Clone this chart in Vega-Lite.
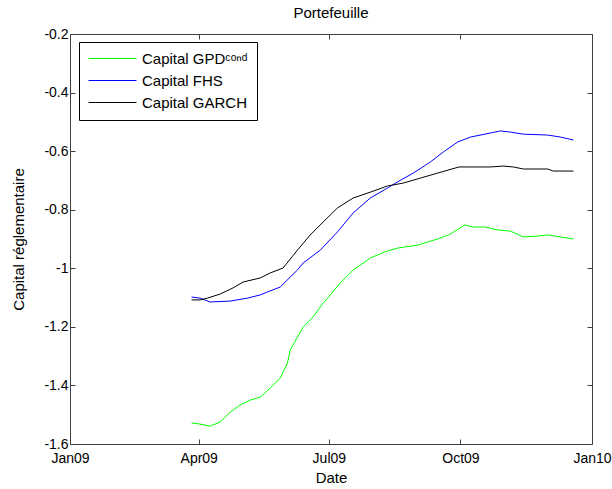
{
  "$schema": "https://vega.github.io/schema/vega-lite/v6.json",
  "width": 522,
  "height": 410,
  "autosize": {"type": "none"},
  "padding": {"left": 70, "top": 34, "right": 20, "bottom": 45},
  "background": "white",
  "title": {"text": "Portefeuille", "font": "Liberation Sans", "fontSize": 15, "fontWeight": "normal", "color": "black", "offset": 6, "anchor": "middle"},
  "config": {
    "view": {"stroke": "#404040", "strokeWidth": 1},
    "axis": {"domain": false, "grid": false, "labelFont": "Liberation Sans", "labelFontSize": 14, "labelColor": "black", "titleFont": "Liberation Sans", "titleFontSize": 15, "titleFontWeight": "normal", "titleColor": "black", "tickColor": "#404040", "tickSize": -5, "tickWidth": 1, "labelFlush": false, "labelOverlap": false}
  },
  "data": {"values": [
    {"date": "2009-03-27", "series": "Capital GPDᶜᵒⁿᵈ", "value": -1.528},
    {"date": "2009-04-02", "series": "Capital GPDᶜᵒⁿᵈ", "value": -1.532},
    {"date": "2009-04-09", "series": "Capital GPDᶜᵒⁿᵈ", "value": -1.539},
    {"date": "2009-04-16", "series": "Capital GPDᶜᵒⁿᵈ", "value": -1.525},
    {"date": "2009-04-23", "series": "Capital GPDᶜᵒⁿᵈ", "value": -1.491},
    {"date": "2009-04-30", "series": "Capital GPDᶜᵒⁿᵈ", "value": -1.467},
    {"date": "2009-05-07", "series": "Capital GPDᶜᵒⁿᵈ", "value": -1.450},
    {"date": "2009-05-14", "series": "Capital GPDᶜᵒⁿᵈ", "value": -1.440},
    {"date": "2009-05-21", "series": "Capital GPDᶜᵒⁿᵈ", "value": -1.409},
    {"date": "2009-05-28", "series": "Capital GPDᶜᵒⁿᵈ", "value": -1.375},
    {"date": "2009-06-02", "series": "Capital GPDᶜᵒⁿᵈ", "value": -1.324},
    {"date": "2009-06-04", "series": "Capital GPDᶜᵒⁿᵈ", "value": -1.279},
    {"date": "2009-06-09", "series": "Capital GPDᶜᵒⁿᵈ", "value": -1.235},
    {"date": "2009-06-13", "series": "Capital GPDᶜᵒⁿᵈ", "value": -1.201},
    {"date": "2009-06-20", "series": "Capital GPDᶜᵒⁿᵈ", "value": -1.166},
    {"date": "2009-06-27", "series": "Capital GPDᶜᵒⁿᵈ", "value": -1.119},
    {"date": "2009-07-02", "series": "Capital GPDᶜᵒⁿᵈ", "value": -1.091},
    {"date": "2009-07-09", "series": "Capital GPDᶜᵒⁿᵈ", "value": -1.050},
    {"date": "2009-07-18", "series": "Capital GPDᶜᵒⁿᵈ", "value": -1.006},
    {"date": "2009-07-30", "series": "Capital GPDᶜᵒⁿᵈ", "value": -0.965},
    {"date": "2009-08-09", "series": "Capital GPDᶜᵒⁿᵈ", "value": -0.944},
    {"date": "2009-08-18", "series": "Capital GPDᶜᵒⁿᵈ", "value": -0.931},
    {"date": "2009-09-01", "series": "Capital GPDᶜᵒⁿᵈ", "value": -0.921},
    {"date": "2009-09-15", "series": "Capital GPDᶜᵒⁿᵈ", "value": -0.900},
    {"date": "2009-09-24", "series": "Capital GPDᶜᵒⁿᵈ", "value": -0.883},
    {"date": "2009-10-04", "series": "Capital GPDᶜᵒⁿᵈ", "value": -0.852},
    {"date": "2009-10-10", "series": "Capital GPDᶜᵒⁿᵈ", "value": -0.859},
    {"date": "2009-10-18", "series": "Capital GPDᶜᵒⁿᵈ", "value": -0.859},
    {"date": "2009-10-27", "series": "Capital GPDᶜᵒⁿᵈ", "value": -0.869},
    {"date": "2009-11-05", "series": "Capital GPDᶜᵒⁿᵈ", "value": -0.873},
    {"date": "2009-11-14", "series": "Capital GPDᶜᵒⁿᵈ", "value": -0.893},
    {"date": "2009-11-24", "series": "Capital GPDᶜᵒⁿᵈ", "value": -0.890},
    {"date": "2009-12-01", "series": "Capital GPDᶜᵒⁿᵈ", "value": -0.886},
    {"date": "2009-12-10", "series": "Capital GPDᶜᵒⁿᵈ", "value": -0.893},
    {"date": "2009-12-19", "series": "Capital GPDᶜᵒⁿᵈ", "value": -0.900},
    {"date": "2009-03-27", "series": "Capital FHS", "value": -1.098},
    {"date": "2009-04-02", "series": "Capital FHS", "value": -1.102},
    {"date": "2009-04-09", "series": "Capital FHS", "value": -1.115},
    {"date": "2009-04-23", "series": "Capital FHS", "value": -1.112},
    {"date": "2009-05-05", "series": "Capital FHS", "value": -1.102},
    {"date": "2009-05-14", "series": "Capital FHS", "value": -1.091},
    {"date": "2009-05-19", "series": "Capital FHS", "value": -1.081},
    {"date": "2009-05-28", "series": "Capital FHS", "value": -1.064},
    {"date": "2009-06-04", "series": "Capital FHS", "value": -1.030},
    {"date": "2009-06-09", "series": "Capital FHS", "value": -1.006},
    {"date": "2009-06-13", "series": "Capital FHS", "value": -0.982},
    {"date": "2009-06-25", "series": "Capital FHS", "value": -0.938},
    {"date": "2009-07-07", "series": "Capital FHS", "value": -0.876},
    {"date": "2009-07-18", "series": "Capital FHS", "value": -0.811},
    {"date": "2009-07-30", "series": "Capital FHS", "value": -0.760},
    {"date": "2009-08-11", "series": "Capital FHS", "value": -0.726},
    {"date": "2009-08-18", "series": "Capital FHS", "value": -0.705},
    {"date": "2009-08-29", "series": "Capital FHS", "value": -0.675},
    {"date": "2009-09-10", "series": "Capital FHS", "value": -0.637},
    {"date": "2009-09-19", "series": "Capital FHS", "value": -0.603},
    {"date": "2009-09-29", "series": "Capital FHS", "value": -0.569},
    {"date": "2009-10-08", "series": "Capital FHS", "value": -0.552},
    {"date": "2009-10-22", "series": "Capital FHS", "value": -0.538},
    {"date": "2009-10-29", "series": "Capital FHS", "value": -0.531},
    {"date": "2009-11-05", "series": "Capital FHS", "value": -0.535},
    {"date": "2009-11-14", "series": "Capital FHS", "value": -0.542},
    {"date": "2009-12-01", "series": "Capital FHS", "value": -0.545},
    {"date": "2009-12-10", "series": "Capital FHS", "value": -0.552},
    {"date": "2009-12-19", "series": "Capital FHS", "value": -0.562},
    {"date": "2009-03-27", "series": "Capital GARCH", "value": -1.108},
    {"date": "2009-04-02", "series": "Capital GARCH", "value": -1.108},
    {"date": "2009-04-07", "series": "Capital GARCH", "value": -1.102},
    {"date": "2009-04-16", "series": "Capital GARCH", "value": -1.088},
    {"date": "2009-04-25", "series": "Capital GARCH", "value": -1.067},
    {"date": "2009-05-02", "series": "Capital GARCH", "value": -1.047},
    {"date": "2009-05-14", "series": "Capital GARCH", "value": -1.033},
    {"date": "2009-05-21", "series": "Capital GARCH", "value": -1.016},
    {"date": "2009-05-30", "series": "Capital GARCH", "value": -0.999},
    {"date": "2009-06-09", "series": "Capital GARCH", "value": -0.938},
    {"date": "2009-06-18", "series": "Capital GARCH", "value": -0.886},
    {"date": "2009-06-27", "series": "Capital GARCH", "value": -0.842},
    {"date": "2009-07-07", "series": "Capital GARCH", "value": -0.794},
    {"date": "2009-07-18", "series": "Capital GARCH", "value": -0.760},
    {"date": "2009-07-30", "series": "Capital GARCH", "value": -0.740},
    {"date": "2009-08-11", "series": "Capital GARCH", "value": -0.719},
    {"date": "2009-08-22", "series": "Capital GARCH", "value": -0.709},
    {"date": "2009-09-03", "series": "Capital GARCH", "value": -0.692},
    {"date": "2009-09-15", "series": "Capital GARCH", "value": -0.675},
    {"date": "2009-09-30", "series": "Capital GARCH", "value": -0.654},
    {"date": "2009-10-22", "series": "Capital GARCH", "value": -0.654},
    {"date": "2009-10-31", "series": "Capital GARCH", "value": -0.651},
    {"date": "2009-11-07", "series": "Capital GARCH", "value": -0.654},
    {"date": "2009-11-14", "series": "Capital GARCH", "value": -0.661},
    {"date": "2009-12-01", "series": "Capital GARCH", "value": -0.661},
    {"date": "2009-12-05", "series": "Capital GARCH", "value": -0.668},
    {"date": "2009-12-19", "series": "Capital GARCH", "value": -0.668}
  ]},
  "layer": [
    {
      "mark": {"type": "line", "strokeWidth": 1, "interpolate": "linear"},
      "encoding": {
        "x": {"field": "date", "type": "temporal",
          "scale": {"type": "utc", "domain": [{"year": 2009, "month": 1, "date": 1, "utc": true}, {"year": 2010, "month": 1, "date": 1, "utc": true}], "nice": false},
          "axis": {"orient": "bottom", "title": "Date", "labelExpr": "utcFormat(datum.value, '%b%y')", "labelPadding": 12, "titlePadding": 5,
            "values": [{"year": 2009, "month": 1, "date": 1, "utc": true}, {"year": 2009, "month": 4, "date": 1, "utc": true}, {"year": 2009, "month": 7, "date": 1, "utc": true}, {"year": 2009, "month": 10, "date": 1, "utc": true}, {"year": 2010, "month": 1, "date": 1, "utc": true}]}},
        "y": {"field": "value", "type": "quantitative",
          "scale": {"domain": [-1.6, -0.2], "nice": false, "zero": false},
          "axis": {"orient": "left", "title": "Capital réglementaire", "values": [-1.6, -1.4, -1.2, -1, -0.8, -0.6, -0.4, -0.2], "labelExpr": "'' + datum.value", "labelPadding": 7, "titlePadding": 17}},
        "color": {"field": "series", "type": "nominal",
          "scale": {"domain": ["Capital GPDᶜᵒⁿᵈ", "Capital FHS", "Capital GARCH"], "range": ["#00ff00", "#0000ff", "#000000"]},
          "legend": {"title": null, "orient": "none", "legendX": 9, "legendY": 8, "strokeColor": "black", "fillColor": "white", "padding": 9, "symbolType": "stroke", "symbolSize": 2304, "symbolStrokeWidth": 1, "labelFont": "Liberation Sans", "labelFontSize": 15, "labelColor": "black", "clipHeight": 15, "rowPadding": 6, "labelOffset": 5, "labelLimit": 300}}
      }
    },
    {
      "mark": {"type": "line", "opacity": 0},
      "encoding": {
        "x": {"field": "date", "type": "temporal",
          "scale": {"type": "utc", "domain": [{"year": 2009, "month": 1, "date": 1, "utc": true}, {"year": 2010, "month": 1, "date": 1, "utc": true}], "nice": false},
          "axis": {"orient": "top", "title": null, "labels": false,
            "values": [{"year": 2009, "month": 1, "date": 1, "utc": true}, {"year": 2009, "month": 4, "date": 1, "utc": true}, {"year": 2009, "month": 7, "date": 1, "utc": true}, {"year": 2009, "month": 10, "date": 1, "utc": true}, {"year": 2010, "month": 1, "date": 1, "utc": true}]}},
        "y": {"field": "value", "type": "quantitative",
          "scale": {"domain": [-1.6, -0.2], "nice": false, "zero": false},
          "axis": {"orient": "right", "title": null, "labels": false, "values": [-1.6, -1.4, -1.2, -1, -0.8, -0.6, -0.4, -0.2]}}
      }
    }
  ],
  "resolve": {"axis": {"x": "independent", "y": "independent"}}
}
